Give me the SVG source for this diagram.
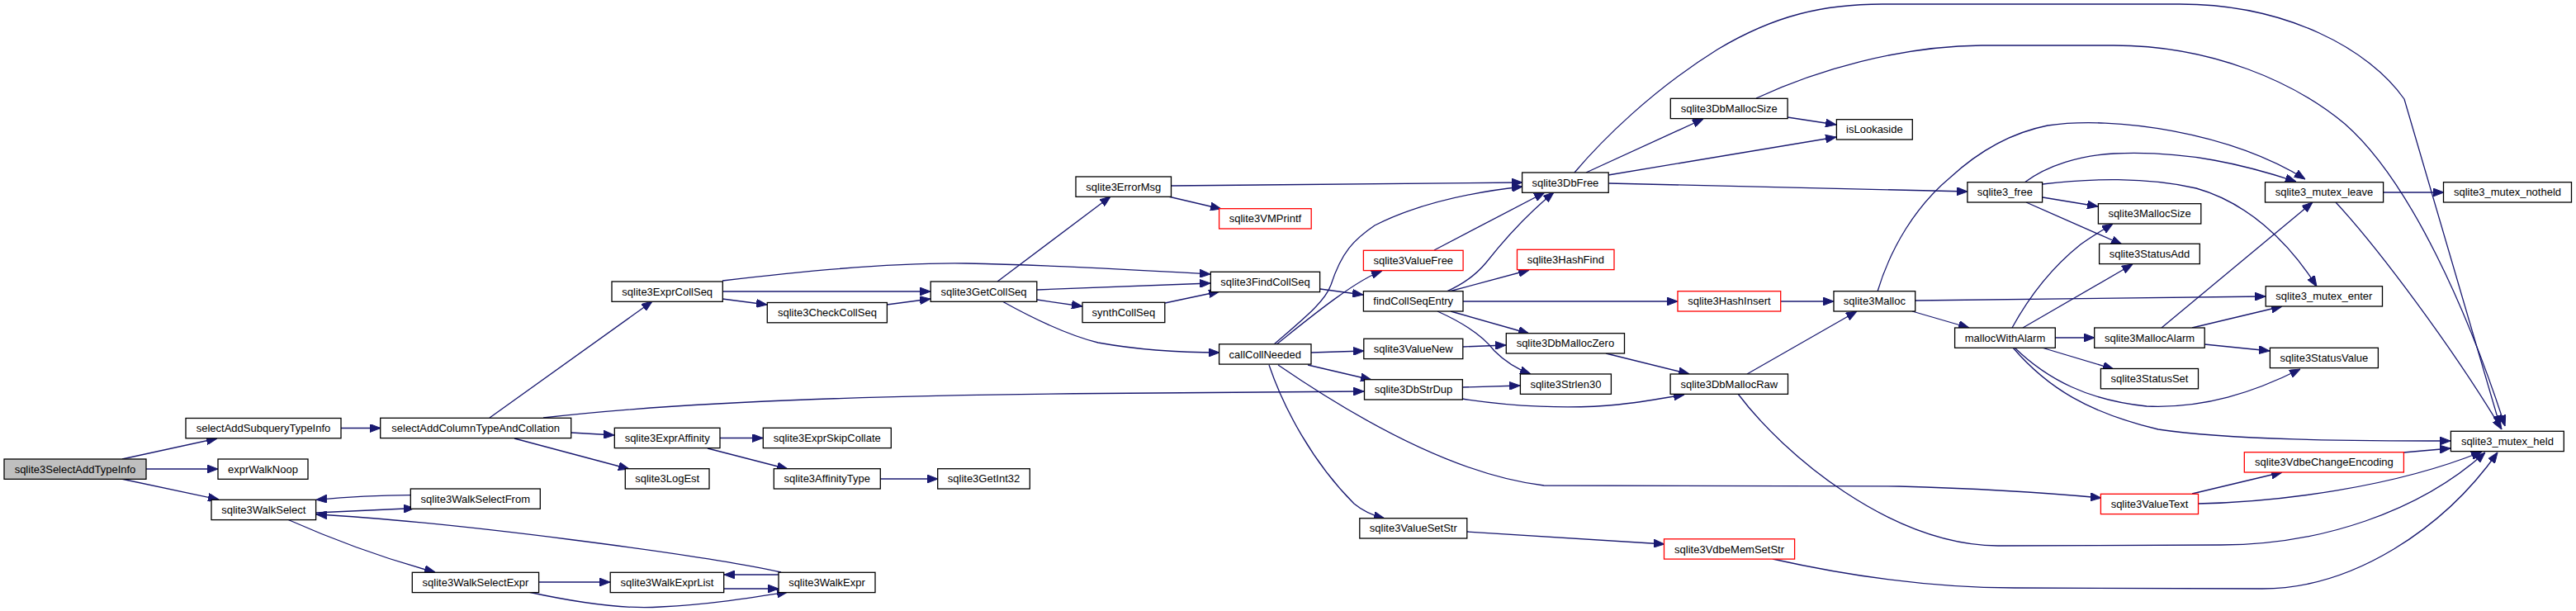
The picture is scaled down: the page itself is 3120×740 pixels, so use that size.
<svg xmlns="http://www.w3.org/2000/svg" width="3120" height="740" viewBox="0 0 3120 740">
<style>
.n rect{fill:#fff;stroke:#000;stroke-width:1.3}
.n.red rect{stroke:#f00}
.n.root rect{fill:#bfbfbf}
.n text{font-family:"Liberation Sans",Arial,sans-serif;font-size:13px;fill:#000;text-anchor:middle}
.e path{fill:none;stroke:#191970;stroke-width:1.3;marker-end:url(#ah)}
</style>
<defs>
<marker id="ah" markerUnits="userSpaceOnUse" markerWidth="13" markerHeight="10" viewBox="0 0 13 10" refX="13" refY="5" orient="auto">
<path d="M0,0 L13,5 L0,10 z" fill="#191970" stroke="#191970" stroke-width="1"/>
</marker>
</defs>
<rect width="3120" height="740" fill="#fff"/>
<g id="edges" class="e">
<path d="M148,556 L263,531"/>
<path d="M177,568 L264,568"/>
<path d="M147,580 L265,605"/>
<path d="M413,518.5 L461,518.5"/>
<path d="M497,599.7 C450,600 420,602 383,605.3"/>
<path d="M382,621 C420,619 460,617.5 502,615.5"/>
<path d="M946,693 C850,672 550,632 383,623"/>
<path d="M348,629 C400,652 460,675 527,693"/>
<path d="M653,705 L739,705"/>
<path d="M640,717 C700,730 760,738 800,735 C860,732 910,724 954,717"/>
<path d="M877,713 L943,713"/>
<path d="M943,696 L877,696"/>
<path d="M593,506 L790,365"/>
<path d="M658,506 C850,484 1100,478 1400,476 L1652,474"/>
<path d="M692,524 L744,527"/>
<path d="M623,531 L762,568"/>
<path d="M872,530.5 L924,530.5"/>
<path d="M857,543 L954,568"/>
<path d="M1066,580 L1136,580"/>
<path d="M875,362 L929,369"/>
<path d="M875,353 L1127,353"/>
<path d="M875,340 C1000,325 1100,318 1170,319 C1280,321 1380,327 1466,332"/>
<path d="M1074,369 L1127,362"/>
<path d="M1208,341 L1345,238"/>
<path d="M1256,351 L1466,343"/>
<path d="M1256,363 L1311,371"/>
<path d="M1214,365 C1250,385 1290,405 1330,415 C1380,424 1430,427 1477,427"/>
<path d="M1411,367 L1477,353"/>
<path d="M1418,225 L1844,221"/>
<path d="M1415,238 L1479,253"/>
<path d="M1599,350 L1651,357"/>
<path d="M1543,417 C1580,385 1605,365 1612,345 C1625,305 1640,290 1665,273 C1720,245 1790,232 1844,226"/>
<path d="M1546,417 C1580,390 1640,340 1674,328"/>
<path d="M1737,303 L1871,233"/>
<path d="M1752,353 C1775,343 1790,330 1800,318 C1830,280 1855,255 1882,233"/>
<path d="M1755,353 L1852,327"/>
<path d="M1772,365 L2032,365"/>
<path d="M1757,377 L1852,404"/>
<path d="M1741,377 C1770,390 1795,405 1810,425 C1825,440 1840,448 1854,453"/>
<path d="M1588,427 L1652,425"/>
<path d="M1584,442 L1661,460"/>
<path d="M1548,442 C1640,505 1760,575 1870,588 L2300,589 C2410,592 2480,597 2545,603"/>
<path d="M1537,442 C1555,495 1590,560 1640,610 C1652,620 1665,625 1677,628"/>
<path d="M1772,420 L1824,418"/>
<path d="M1771,469 L1841,467"/>
<path d="M1771,483 C1830,492 1900,496 1960,490 C1990,487 2015,482 2040,478"/>
<path d="M1945,428 L2046,453"/>
<path d="M1777,644 L2016,659"/>
<path d="M2157,365 L2221,365"/>
<path d="M2116,453 L2249,377"/>
<path d="M2105,477 C2160,550 2290,660 2420,661 L2690,660 C2810,660 2930,620 3010,548"/>
<path d="M2147,677 C2250,700 2350,712 2440,712 L2740,713 C2850,713 2960,640 3025,548"/>
<path d="M2655,598 L2764,572"/>
<path d="M2662,610 C2760,608 2900,590 3006,547"/>
<path d="M2911,548 L2968,543"/>
<path d="M2274,353 C2290,300 2320,250 2362,215 C2400,180 2440,160 2480,152 C2560,140 2700,160 2792,217"/>
<path d="M2452,221 C2480,200 2520,188 2560,186 C2650,182 2720,200 2781,220"/>
<path d="M2474,223 C2530,216 2600,214 2660,228 C2720,245 2770,290 2806,347"/>
<path d="M2474,239 L2541,250"/>
<path d="M2454,245 L2570,296"/>
<path d="M2320,364 L2744,359"/>
<path d="M2316,377 L2385,397"/>
<path d="M2437,397 C2460,355 2490,320 2520,296 C2535,285 2548,278 2559,271"/>
<path d="M2450,397 L2583,320"/>
<path d="M2489,409 L2537,409"/>
<path d="M2473,421 L2560,447"/>
<path d="M2440,421 C2480,460 2530,485 2600,492 C2670,495 2730,475 2786,447"/>
<path d="M2438,421 C2480,470 2530,500 2614,520 C2700,533 2850,534 2968,534"/>
<path d="M2618,397 L2801,245"/>
<path d="M2655,397 L2764,371"/>
<path d="M2670,417 L2749,425"/>
<path d="M2887,233 L2960,233"/>
<path d="M2829,245 C2880,300 2970,420 3030,520"/>
<path d="M1907,209 C1940,170 2000,110 2080,60 C2150,18 2210,5 2280,5 L2640,5 C2770,5 2870,60 2912,120 L3028,516"/>
<path d="M2127,119 C2200,85 2300,56 2400,55 L2560,55 C2680,55 2780,100 2840,150 C2920,220 2990,380 3034,516"/>
<path d="M1921,209 L2063,144"/>
<path d="M1948,212 L2224,166"/>
<path d="M2165,142 L2224,151"/>
<path d="M1948,222 L2383,232"/>
</g>
<g id="n1" class="n root"><rect x="5" y="556" width="172" height="24.3"/><text x="91" y="572.7">sqlite3SelectAddTypeInfo</text></g>
<g id="n2" class="n"><rect x="225" y="506.5" width="188" height="24.3"/><text x="319" y="523.2">selectAddSubqueryTypeInfo</text></g>
<g id="n3" class="n"><rect x="264" y="556" width="109" height="24.3"/><text x="318.5" y="572.7">exprWalkNoop</text></g>
<g id="n4" class="n"><rect x="256" y="605.3" width="126.6" height="24.3"/><text x="319.3" y="622">sqlite3WalkSelect</text></g>
<g id="n5" class="n"><rect x="460.7" y="506.3" width="231" height="24.3"/><text x="576.2" y="523">selectAddColumnTypeAndCollation</text></g>
<g id="n6" class="n"><rect x="497.3" y="592" width="157" height="24.3"/><text x="575.8" y="608.7">sqlite3WalkSelectFrom</text></g>
<g id="n7" class="n"><rect x="499.3" y="693.3" width="153.3" height="24.3"/><text x="576" y="710">sqlite3WalkSelectExpr</text></g>
<g id="n8" class="n"><rect x="741" y="341" width="134.3" height="24.3"/><text x="808.2" y="357.7">sqlite3ExprCollSeq</text></g>
<g id="n9" class="n"><rect x="744.3" y="518.3" width="127.7" height="24.3"/><text x="808.2" y="535">sqlite3ExprAffinity</text></g>
<g id="n10" class="n"><rect x="757.3" y="567.7" width="101.7" height="24.3"/><text x="808.2" y="584.4">sqlite3LogEst</text></g>
<g id="n11" class="n"><rect x="739.2" y="693.3" width="137.5" height="24.3"/><text x="808" y="710">sqlite3WalkExprList</text></g>
<g id="n12" class="n"><rect x="943" y="693.3" width="117" height="24.3"/><text x="1001.5" y="710">sqlite3WalkExpr</text></g>
<g id="n13" class="n"><rect x="929.3" y="366.5" width="145.1" height="24.3"/><text x="1001.9" y="383.2">sqlite3CheckCollSeq</text></g>
<g id="n14" class="n"><rect x="924.3" y="518.3" width="155" height="24.3"/><text x="1001.8" y="535">sqlite3ExprSkipCollate</text></g>
<g id="n15" class="n"><rect x="937.3" y="567.7" width="129" height="24.3"/><text x="1001.8" y="584.4">sqlite3AffinityType</text></g>
<g id="n16" class="n"><rect x="1135.7" y="567.7" width="111.6" height="24.3"/><text x="1191.5" y="584.4">sqlite3GetInt32</text></g>
<g id="n17" class="n"><rect x="1127.2" y="341" width="128.6" height="24.3"/><text x="1191.5" y="357.7">sqlite3GetCollSeq</text></g>
<g id="n18" class="n"><rect x="1303" y="214" width="115.5" height="24.3"/><text x="1360.8" y="230.7">sqlite3ErrorMsg</text></g>
<g id="n19" class="n"><rect x="1311" y="366.3" width="99.8" height="24.3"/><text x="1360.9" y="383">synthCollSeq</text></g>
<g id="n20" class="n red"><rect x="1476.6" y="252.7" width="111.6" height="24.3"/><text x="1532.4" y="269.4">sqlite3VMPrintf</text></g>
<g id="n21" class="n"><rect x="1466.3" y="329.3" width="132.3" height="24.3"/><text x="1532.5" y="346">sqlite3FindCollSeq</text></g>
<g id="n22" class="n"><rect x="1476.6" y="416.8" width="111.4" height="24.3"/><text x="1532.3" y="433.5">callCollNeeded</text></g>
<g id="n23" class="n"><rect x="1843.6" y="209" width="104.6" height="24.3"/><text x="1895.9" y="225.7">sqlite3DbFree</text></g>
<g id="n24" class="n red"><rect x="1651.4" y="303.3" width="120.7" height="24.3"/><text x="1711.8" y="320">sqlite3ValueFree</text></g>
<g id="n25" class="n red"><rect x="1837.5" y="302.3" width="117.5" height="24.3"/><text x="1896.3" y="319">sqlite3HashFind</text></g>
<g id="n26" class="n"><rect x="1651.4" y="352.7" width="120.6" height="24.3"/><text x="1711.7" y="369.4">findCollSeqEntry</text></g>
<g id="n27" class="n"><rect x="1651.8" y="410.3" width="120" height="24.3"/><text x="1711.8" y="427">sqlite3ValueNew</text></g>
<g id="n28" class="n"><rect x="1652.5" y="459.7" width="118.9" height="24.3"/><text x="1712" y="476.4">sqlite3DbStrDup</text></g>
<g id="n29" class="n"><rect x="1646.8" y="627.7" width="130" height="24.3"/><text x="1711.8" y="644.4">sqlite3ValueSetStr</text></g>
<g id="n30" class="n"><rect x="1824.3" y="403.7" width="143.2" height="24.3"/><text x="1895.9" y="420.4">sqlite3DbMallocZero</text></g>
<g id="n31" class="n"><rect x="1841.4" y="453" width="110" height="24.3"/><text x="1896.4" y="469.7">sqlite3Strlen30</text></g>
<g id="n32" class="n"><rect x="2023.3" y="119.3" width="141.8" height="24.3"/><text x="2094.2" y="136">sqlite3DbMallocSize</text></g>
<g id="n33" class="n"><rect x="2224.4" y="144.7" width="91.9" height="24.3"/><text x="2270.4" y="161.4">isLookaside</text></g>
<g id="n34" class="n red"><rect x="2032" y="352.7" width="124.7" height="24.3"/><text x="2094.4" y="369.4">sqlite3HashInsert</text></g>
<g id="n35" class="n"><rect x="2221" y="352.7" width="98.7" height="24.3"/><text x="2270.4" y="369.4">sqlite3Malloc</text></g>
<g id="n36" class="n"><rect x="2023.1" y="453" width="142.4" height="24.3"/><text x="2094.3" y="469.7">sqlite3DbMallocRaw</text></g>
<g id="n37" class="n red"><rect x="2015.5" y="652.8" width="158.1" height="24.3"/><text x="2094.6" y="669.5">sqlite3VdbeMemSetStr</text></g>
<g id="n38" class="n"><rect x="2382.9" y="220.7" width="90.7" height="24.3"/><text x="2428.3" y="237.4">sqlite3_free</text></g>
<g id="n39" class="n"><rect x="2367.6" y="397" width="121.7" height="24.3"/><text x="2428.5" y="413.7">mallocWithAlarm</text></g>
<g id="n40" class="n"><rect x="2541.4" y="246.7" width="124.4" height="24.3"/><text x="2603.6" y="263.4">sqlite3MallocSize</text></g>
<g id="n41" class="n"><rect x="2542.6" y="295.3" width="121.7" height="24.3"/><text x="2603.5" y="312">sqlite3StatusAdd</text></g>
<g id="n42" class="n"><rect x="2536.7" y="397" width="133.5" height="24.3"/><text x="2603.5" y="413.7">sqlite3MallocAlarm</text></g>
<g id="n43" class="n"><rect x="2544.4" y="446.5" width="118.1" height="24.3"/><text x="2603.5" y="463.2">sqlite3StatusSet</text></g>
<g id="n44" class="n red"><rect x="2544.4" y="598.3" width="118.1" height="24.3"/><text x="2603.5" y="615">sqlite3ValueText</text></g>
<g id="n45" class="n"><rect x="2743.5" y="220.7" width="143.1" height="24.3"/><text x="2815" y="237.4">sqlite3_mutex_leave</text></g>
<g id="n46" class="n"><rect x="2744.2" y="346.7" width="141.3" height="24.3"/><text x="2814.9" y="363.4">sqlite3_mutex_enter</text></g>
<g id="n47" class="n"><rect x="2749.4" y="421.3" width="131" height="24.3"/><text x="2814.9" y="438">sqlite3StatusValue</text></g>
<g id="n48" class="n red"><rect x="2718.3" y="547.7" width="193.1" height="24.3"/><text x="2814.9" y="564.4">sqlite3VdbeChangeEncoding</text></g>
<g id="n49" class="n"><rect x="2959.5" y="220.7" width="155" height="24.3"/><text x="3037" y="237.4">sqlite3_mutex_notheld</text></g>
<g id="n50" class="n"><rect x="2968.4" y="522.3" width="136.9" height="24.3"/><text x="3036.9" y="539">sqlite3_mutex_held</text></g>
</svg>
